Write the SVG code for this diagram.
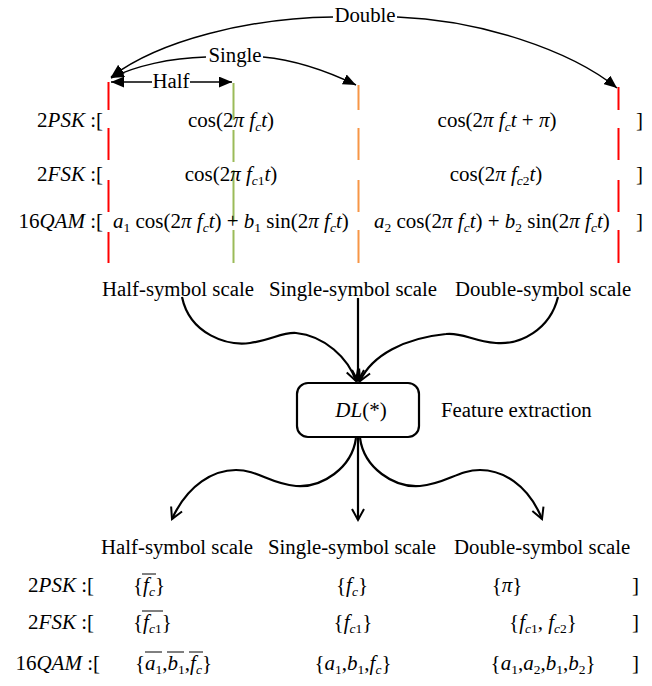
<svg xmlns="http://www.w3.org/2000/svg" width="652" height="686" viewBox="0 0 652 686" font-family="'Liberation Serif','Times New Roman',serif">
<style>
text{font-family:"Liberation Serif","Times New Roman",serif;font-size:21px;fill:#000}
.i{font-style:italic}
.s{font-size:13.5px}
.lbl{font-size:20.8px}
.conn{fill:none;stroke:#000;stroke-width:1.5}
.bold{fill:none;stroke:#000;stroke-width:2.2}
.dash{fill:none;stroke-width:2}
.ov{stroke:#000;stroke-width:1}
</style>
<defs>
<marker id="tri" viewBox="0 0 12 10" refX="12" refY="5" markerWidth="13" markerHeight="11" markerUnits="userSpaceOnUse" orient="auto"><path d="M0,0L12,5L0,10z"/></marker>
<marker id="vee" viewBox="0 0 12 12" refX="11" refY="6" markerWidth="12" markerHeight="12" markerUnits="userSpaceOnUse" orient="auto" overflow="visible"><path d="M0,0L11,6L0,12" fill="none" stroke="#000" stroke-width="2"/></marker>
</defs>
<rect width="652" height="686" fill="#fff"/>

<g id="scale-lines">
<path class="dash" stroke="#ff0000" d="M108.5,82V110M108.5,128V160M108.5,180V212M108.5,232V263"/>
<path class="dash" stroke="#9bbb59" d="M233.5,83V120M233.5,130V162M233.5,170V222M233.5,230V263"/>
<path class="dash" stroke="#f79646" d="M358.5,85V110M358.5,128V160M358.5,180V212M358.5,230V263"/>
<path class="dash" stroke="#ff0000" d="M618.5,87V110M618.5,128V160M618.5,180V212M618.5,230V263"/>
</g>

<g id="connectors">
<path class="conn" marker-end="url(#tri)" d="M333,17C250,18 160,40 111,77"/>
<path class="conn" marker-end="url(#tri)" d="M397,17C480,20 570,50 617,88"/>
<path class="conn" marker-end="url(#tri)" d="M206,57C170,58 135,66 111,78"/>
<path class="conn" marker-end="url(#tri)" d="M263,57C295,60 325,70 356,85"/>
<path class="conn" marker-end="url(#tri)" d="M152,82H111"/>
<path class="conn" marker-end="url(#tri)" d="M190,82H232"/>
<path class="bold" marker-end="url(#vee)" d="M182,297C190,335 228,346 250,343S282,332 296,333C325,336 348,358 356,381"/>
<path class="bold" marker-end="url(#vee)" d="M358,298V381"/>
<path class="bold" marker-end="url(#vee)" d="M558,297C550,330 520,345 496,343S462,332 446,334C405,338 372,355 360,381"/>
<path class="bold" marker-end="url(#vee)" d="M356,438C352,468 322,488 296,486S258,470 236,470S188,484 172,519"/>
<path class="bold" marker-end="url(#vee)" d="M358,438V520"/>
<path class="bold" marker-end="url(#vee)" d="M360,438C364,468 394,488 420,486S458,470 480,470S528,484 542,519"/>
</g>

<g id="arc-labels">
<text class="lbl" x="365" y="22" text-anchor="middle">Double</text>
<text class="lbl" x="235" y="62" text-anchor="middle">Single</text>
<text class="lbl" x="171" y="88" text-anchor="middle">Half</text>
</g>

<g id="signals">
<text x="103" y="127" text-anchor="end">2<tspan class="i">PSK</tspan> :[</text>
<text x="231" y="127" text-anchor="middle">cos(2<tspan class="i">π</tspan> <tspan class="i">f</tspan><tspan class="i s" dy="4">c</tspan><tspan class="i" dy="-4">t</tspan>)</text>
<text x="497" y="127" text-anchor="middle">cos(2<tspan class="i">π</tspan> <tspan class="i">f</tspan><tspan class="i s" dy="4">c</tspan><tspan class="i" dy="-4">t</tspan> + <tspan class="i">π</tspan>)</text>
<text x="636" y="127">]</text>

<text x="103" y="181" text-anchor="end">2<tspan class="i">FSK</tspan> :[</text>
<text x="231" y="181" text-anchor="middle">cos(2<tspan class="i">π</tspan> <tspan class="i">f</tspan><tspan class="i s" dy="4">c</tspan><tspan class="s">1</tspan><tspan class="i" dy="-4">t</tspan>)</text>
<text x="496" y="181" text-anchor="middle">cos(2<tspan class="i">π</tspan> <tspan class="i">f</tspan><tspan class="i s" dy="4">c</tspan><tspan class="s">2</tspan><tspan class="i" dy="-4">t</tspan>)</text>
<text x="636" y="181">]</text>

<text x="103" y="228" text-anchor="end">16<tspan class="i">QAM</tspan> :[</text>
<text x="113" y="228"><tspan class="i">a</tspan><tspan class="s" dy="4">1</tspan><tspan dy="-4"> cos(2</tspan><tspan class="i">π</tspan> <tspan class="i">f</tspan><tspan class="i s" dy="4">c</tspan><tspan class="i" dy="-4">t</tspan>) + <tspan class="i">b</tspan><tspan class="s" dy="4">1</tspan><tspan dy="-4"> sin(2</tspan><tspan class="i">π</tspan> <tspan class="i">f</tspan><tspan class="i s" dy="4">c</tspan><tspan class="i" dy="-4">t</tspan>)</text>
<text x="374" y="228"><tspan class="i">a</tspan><tspan class="s" dy="4">2</tspan><tspan dy="-4"> cos(2</tspan><tspan class="i">π</tspan> <tspan class="i">f</tspan><tspan class="i s" dy="4">c</tspan><tspan class="i" dy="-4">t</tspan>) + <tspan class="i">b</tspan><tspan class="s" dy="4">2</tspan><tspan dy="-4"> sin(2</tspan><tspan class="i">π</tspan> <tspan class="i">f</tspan><tspan class="i s" dy="4">c</tspan><tspan class="i" dy="-4">t</tspan>)</text>
<text x="636" y="228">]</text>
</g>

<g id="scale-labels-top">
<text class="lbl" x="102" y="296">Half-symbol scale</text>
<text class="lbl" x="269" y="296">Single-symbol scale</text>
<text class="lbl" x="455" y="296">Double-symbol scale</text>
</g>

<g id="dl-box">
<rect x="297" y="383" width="122" height="54" rx="11" fill="#fff" stroke="#000" stroke-width="2.2"/>
<text x="361" y="417" text-anchor="middle"><tspan class="i">DL</tspan>(*)</text>
</g>
<g id="feature-label">
<text class="lbl" x="441" y="417">Feature extraction</text>
</g>

<g id="scale-labels-bottom">
<text class="lbl" x="101" y="554">Half-symbol scale</text>
<text class="lbl" x="268" y="554">Single-symbol scale</text>
<text class="lbl" x="454" y="554">Double-symbol scale</text>
</g>

<g id="features">
<text x="94" y="592" text-anchor="end">2<tspan class="i">PSK</tspan> :[</text>
<text x="133" y="592">{<tspan class="i">f</tspan><tspan class="i s" dy="4">c</tspan><tspan dy="-4">}</tspan></text>
<line class="ov" x1="142" y1="574" x2="156" y2="574"/>
<text x="352" y="592" text-anchor="middle">{<tspan class="i">f</tspan><tspan class="i s" dy="4">c</tspan><tspan dy="-4">}</tspan></text>
<text x="507" y="592" text-anchor="middle">{<tspan class="i">π</tspan>}</text>
<text x="632" y="592">]</text>

<text x="94" y="629" text-anchor="end">2<tspan class="i">FSK</tspan> :[</text>
<text x="133" y="629">{<tspan class="i">f</tspan><tspan class="i s" dy="4">c</tspan><tspan class="s">1</tspan><tspan dy="-4">}</tspan></text>
<line class="ov" x1="142" y1="611" x2="163" y2="611"/>
<text x="353" y="629" text-anchor="middle">{<tspan class="i">f</tspan><tspan class="i s" dy="4">c</tspan><tspan class="s">1</tspan><tspan dy="-4">}</tspan></text>
<text x="543" y="629" text-anchor="middle">{<tspan class="i">f</tspan><tspan class="i s" dy="4">c</tspan><tspan class="s">1</tspan><tspan dy="-4">, </tspan><tspan class="i">f</tspan><tspan class="i s" dy="4">c</tspan><tspan class="s">2</tspan><tspan dy="-4">}</tspan></text>
<text x="632" y="629">]</text>

<text x="100" y="670" text-anchor="end">16<tspan class="i">QAM</tspan> :[</text>
<text x="135" y="670">{<tspan class="i">a</tspan><tspan class="s" dy="4">1</tspan><tspan dy="-4">,</tspan><tspan class="i">b</tspan><tspan class="s" dy="4">1</tspan><tspan dy="-4">,</tspan><tspan class="i">f</tspan><tspan class="i s" dy="4">c</tspan><tspan dy="-4">}</tspan></text>
<line class="ov" x1="145" y1="652" x2="162" y2="652"/>
<line class="ov" x1="167" y1="652" x2="184" y2="652"/>
<line class="ov" x1="189" y1="652" x2="203" y2="652"/>
<text x="353" y="670" text-anchor="middle">{<tspan class="i">a</tspan><tspan class="s" dy="4">1</tspan><tspan dy="-4">,</tspan><tspan class="i">b</tspan><tspan class="s" dy="4">1</tspan><tspan dy="-4">,</tspan><tspan class="i">f</tspan><tspan class="i s" dy="4">c</tspan><tspan dy="-4">}</tspan></text>
<text x="543" y="670" text-anchor="middle">{<tspan class="i">a</tspan><tspan class="s" dy="4">1</tspan><tspan dy="-4">,</tspan><tspan class="i">a</tspan><tspan class="s" dy="4">2</tspan><tspan dy="-4">,</tspan><tspan class="i">b</tspan><tspan class="s" dy="4">1</tspan><tspan dy="-4">,</tspan><tspan class="i">b</tspan><tspan class="s" dy="4">2</tspan><tspan dy="-4">}</tspan></text>
<text x="632" y="670">]</text>
</g>
</svg>
